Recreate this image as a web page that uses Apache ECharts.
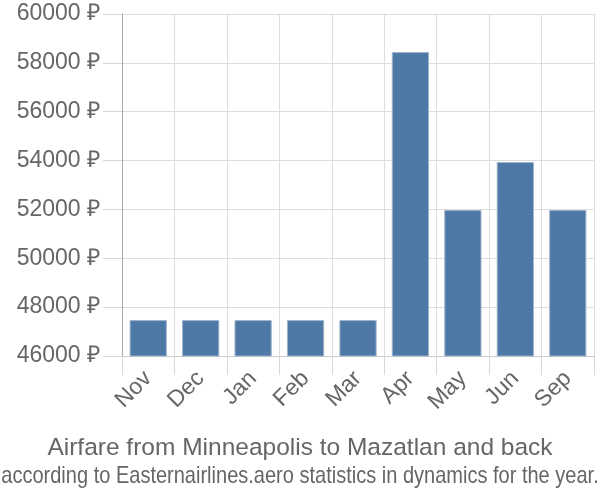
<!DOCTYPE html>
<html><head><meta charset="utf-8">
<script src="https://cdn.jsdelivr.net/npm/echarts@6/dist/echarts.min.js"></script>
<style>html,body{margin:0;padding:0;background:#fff}#c{width:600px;height:500px}</style>
</head><body><div id="c"></div>
<script>
const categories = ['Nov','Dec','Jan','Feb','Mar','Apr','May','Jun','Sep'];
const prices = [47470, 47470, 47470, 47470, 47470, 58440, 51980, 53940, 51980];
const titleText = 'Airfare from Minneapolis to Mazatlan and back';
const subtitleText = 'according to Easternairlines.aero statistics in dynamics for the year.';
const chart = echarts.init(document.getElementById('c'));
chart.setOption({
  animation: false,
  title: [
    {text: titleText, left: 'center', top: 431, textStyle: {color: '#666', fontSize: 24.5, fontWeight: 'normal', fontFamily: 'Liberation Sans'}}
  ],
  graphic: [
    {type: 'text', x: 300, y: 476, scaleX: 0.834, silent: true,
     style: {text: subtitleText, fill: '#666', font: '24px "Liberation Sans"', align: 'center', verticalAlign: 'middle'}}
  ],
  grid: {left: 122, right: 6, top: 14, bottom: 144},
  xAxis: {
    type: 'category', data: categories,
    axisLine: {show: true, lineStyle: {color: '#ccc'}},
    axisTick: {show: true, inside: false, length: 19, lineStyle: {color: '#d8d8d8', width: 1}},
    splitLine: {show: true, lineStyle: {color: '#ddd'}},
    axisLabel: {rotate: 45, color: '#666', fontSize: 23, fontFamily: 'Liberation Sans', margin: 19}
  },
  yAxis: {
    type: 'value', min: 46000, max: 60000, interval: 2000,
    axisLine: {show: true, lineStyle: {color: '#aaa'}},
    axisTick: {show: true, inside: false, length: 19, lineStyle: {color: '#d8d8d8', width: 1}},
    splitLine: {lineStyle: {color: '#ddd'}},
    axisLabel: {formatter: function (v) { return v + ' ₽'; }, color: '#666', fontSize: 23, fontFamily: 'Liberation Sans', margin: 22}
  },
  series: [{
    type: 'bar', data: prices, barCategoryGap: '29%',
    itemStyle: {color: '#4e78a6', borderColor: '#9fb3cc', borderWidth: 1}
  }]
});
</script></body></html>
